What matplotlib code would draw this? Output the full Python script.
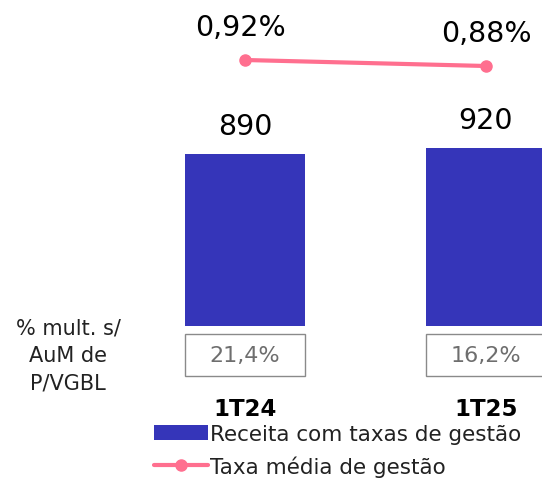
import matplotlib
matplotlib.use('Agg')
import matplotlib.pyplot as plt
from matplotlib.patches import Rectangle
import matplotlib.transforms as mtransforms

plt.rcParams['font.family'] = ['DejaVu Sans']

# data
periods = ['1T24', '1T25']
receita = [890, 920]
taxa = [0.92, 0.88]
mult_aum = ['21,4%', '16,2%']
receita_labels = ['890', '920']
taxa_labels = ['0,92%', '0,88%']

bar_color = '#3535B9'
line_color = '#FF6F8F'

W, H = 542, 481
fig = plt.figure(figsize=(W / 100, H / 100), dpi=100)
ax = fig.add_axes([0, 0, 1, 1])
ax.set_axis_off()

# map category 0 -> 245px, 1 -> 486px ; bar baseline at 154px from bottom
xs = 241.0
x0 = 245.0
ax.set_xlim(-x0 / xs, (W - x0) / xs)
ys = 0.1933
base = 154.0
ax.set_ylim(-base / ys, (H - base) / ys)

pos = list(range(len(periods)))
bw = 120 / xs
bars = ax.bar(pos, receita, width=bw, color=bar_color, label='Receita com taxas de gestão')
for p, v, lab in zip(pos, receita, receita_labels):
    ax.annotate(lab, (p, v), xytext=(0, 20), textcoords='offset points',
                ha='center', va='center', fontsize=20.5, color='black')

# line on twin axis
ax2 = ax.twinx()
ax2.set_axis_off()
ax2.set_xlim(ax.get_xlim())
ys2 = 150.0
ax2.set_ylim(0.92 - 420 / ys2, 0.92 + 61 / ys2)
ln, = ax2.plot(pos, taxa, color=line_color, lw=3, marker='o', markersize=8,
               solid_capstyle='round', label='Taxa média de gestão')
for p, v, lab in zip(pos, taxa, taxa_labels):
    ax2.annotate(lab, (p, v), xytext=(-3 if p == 0 else 0, 24), textcoords='offset points',
                 ha='center', va='center', fontsize=20.5, color='black')

# boxes with % mult. s/ AuM
trans = mtransforms.blended_transform_factory(ax.transData, ax.transAxes)
for p, lab in zip(pos, mult_aum):
    ax.add_patch(Rectangle((p - bw / 2, (481 - 377) / H), bw, 42 / H, transform=trans,
                           facecolor='white', edgecolor='#8a8a8a', lw=1, clip_on=False))
    ax.text(p, (481 - 356) / H, lab, transform=trans, ha='center', va='center',
            fontsize=16, color='#6e6e6e')
    ax.text(p, (481 - 410) / H, periods[p], transform=trans, ha='center', va='center',
            fontsize=16.5, fontweight='bold', color='black')

fig.text(68 / W, (481 - 356) / H, '% mult. s/\nAuM de\nP/VGBL', ha='center', va='center',
         fontsize=15, color='#222222', linespacing=1.45)

leg = fig.legend([bars, ln], ['Receita com taxas de gestão', 'Taxa média de gestão'],
                 loc='upper left', bbox_to_anchor=(154 / W, (481 - 425) / H),
                 frameon=False, fontsize=15.5, handlelength=2.5, handletextpad=0.12,
                 borderaxespad=0, borderpad=0, labelspacing=0.52)
for t in leg.get_texts():
    t.set_color('#222222')

fig.savefig('out.png', dpi=100)
